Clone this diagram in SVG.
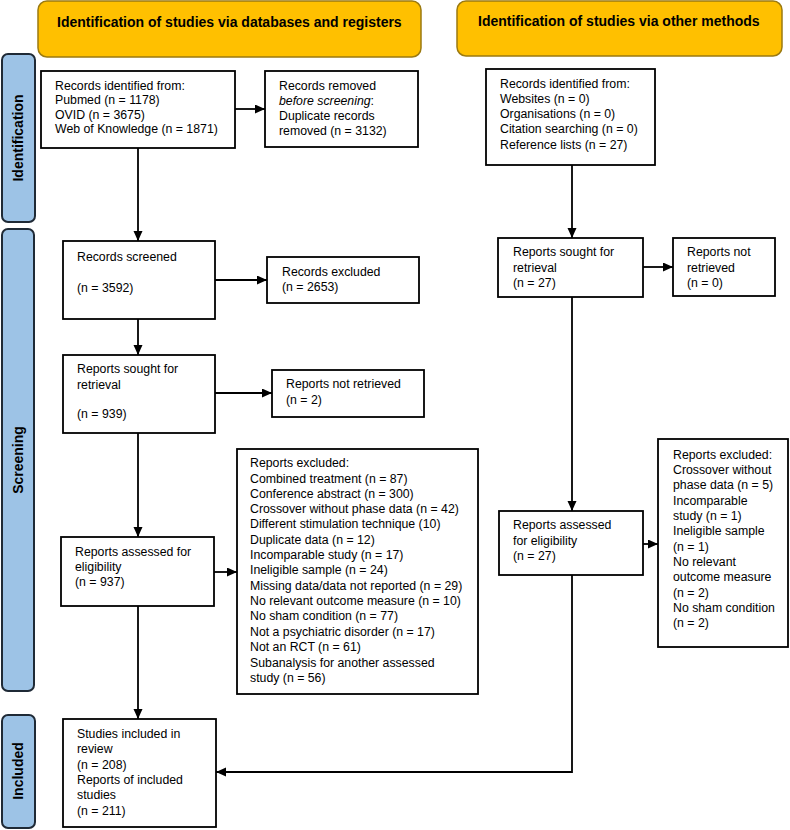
<svg xmlns="http://www.w3.org/2000/svg" width="790" height="830" viewBox="0 0 790 830">
<style>
  .hdr { fill: #FFC000; stroke: #9C7A10; stroke-width: 1.5; }
  .bar { fill: #9DC3E6; stroke: #1F2A36; stroke-width: 2; }
  .box { fill: #FFFFFF; stroke: #000000; stroke-width: 1.8; }
  .t { font-family: "Liberation Sans", Arial, sans-serif; font-size: 12.3px; fill: #000; }
  .ht { font-family: "Liberation Sans", Arial, sans-serif; font-size: 14px; font-weight: bold; fill: #000; }
  .bt { font-family: "Liberation Sans", Arial, sans-serif; font-size: 14px; font-weight: bold; fill: #000; text-anchor: middle; }
  .c { fill: none; stroke: #000; stroke-width: 1.8; }
</style>
<defs>
  <marker id="arr" markerUnits="userSpaceOnUse" markerWidth="11" markerHeight="10" refX="10" refY="4.5" orient="auto">
    <path d="M0,0 L10,4.5 L0,9 z" fill="#000"/>
  </marker>
</defs>
<rect width="790" height="830" fill="#FFFFFF"/>

<g id="header-databases">
  <rect class="hdr" x="38" y="1" width="383" height="56" rx="9"/>
  <text class="ht" x="57" y="27">Identification of studies via databases and registers</text>
</g>
<g id="header-other">
  <rect class="hdr" x="457" y="1" width="325" height="55" rx="9"/>
  <text class="ht" x="478" y="26">Identification of studies via other methods</text>
</g>

<g id="bar-identification">
  <rect class="bar" x="2" y="54" width="33" height="168" rx="6"/>
  <text class="bt" transform="translate(23,138) rotate(-90)">Identification</text>
</g>
<g id="bar-screening">
  <rect class="bar" x="2" y="229" width="32" height="462" rx="6"/>
  <text class="bt" transform="translate(23,460) rotate(-90)">Screening</text>
</g>
<g id="bar-included">
  <rect class="bar" x="2" y="715" width="33" height="113" rx="6"/>
  <text class="bt" transform="translate(23,771) rotate(-90)">Included</text>
</g>

<g id="records-identified">
  <rect class="box" x="41" y="71" width="194" height="77"/>
  <text class="t" x="55" y="90">Records identified from:</text>
  <text class="t" x="55" y="104">Pubmed (n = 1178)</text>
  <text class="t" x="55" y="119">OVID (n = 3675)</text>
  <text class="t" x="55" y="133">Web of Knowledge (n = 1871)</text>
</g>
<g id="records-removed">
  <rect class="box" x="265" y="71" width="153" height="76"/>
  <text class="t" x="279" y="90">Records removed</text>
  <text class="t" x="279" y="105"><tspan font-style="italic">before screening</tspan>:</text>
  <text class="t" x="279" y="120">Duplicate records</text>
  <text class="t" x="279" y="135">removed  (n = 3132)</text>
</g>
<g id="records-screened">
  <rect class="box" x="63" y="241" width="152" height="78"/>
  <text class="t" x="77" y="261">Records screened</text>
  <text class="t" x="77" y="292">(n = 3592)</text>
</g>
<g id="records-excluded">
  <rect class="box" x="267" y="257" width="152" height="46"/>
  <text class="t" x="282" y="276">Records excluded</text>
  <text class="t" x="282" y="291">(n = 2653)</text>
</g>
<g id="reports-sought">
  <rect class="box" x="63" y="355" width="152" height="78"/>
  <text class="t" x="77" y="373">Reports sought for</text>
  <text class="t" x="77" y="389">retrieval</text>
  <text class="t" x="77" y="418">(n = 939)</text>
</g>
<g id="reports-not-retrieved">
  <rect class="box" x="272" y="370" width="152" height="47"/>
  <text class="t" x="286" y="388">Reports not retrieved</text>
  <text class="t" x="286" y="404">(n = 2)</text>
</g>
<g id="reports-assessed">
  <rect class="box" x="61" y="537" width="153" height="69"/>
  <text class="t" x="75" y="556">Reports assessed for</text>
  <text class="t" x="75" y="571">eligibility</text>
  <text class="t" x="75" y="586">(n = 937)</text>
</g>
<g id="reports-excluded">
  <rect class="box" x="237" y="449" width="241" height="245"/>
  <text class="t" x="250" y="467">Reports excluded:</text>
  <text class="t" x="250" y="483">Combined treatment (n = 87)</text>
  <text class="t" x="250" y="498">Conference abstract (n = 300)</text>
  <text class="t" x="250" y="513">Crossover without phase data (n = 42)</text>
  <text class="t" x="250" y="528">Different stimulation technique (10)</text>
  <text class="t" x="250" y="544">Duplicate data (n = 12)</text>
  <text class="t" x="250" y="559">Incomparable study (n = 17)</text>
  <text class="t" x="250" y="574">Ineligible sample (n = 24)</text>
  <text class="t" x="250" y="590">Missing data/data not reported (n = 29)</text>
  <text class="t" x="250" y="605">No relevant outcome measure (n = 10)</text>
  <text class="t" x="250" y="620">No sham condition (n = 77)</text>
  <text class="t" x="250" y="636">Not a psychiatric disorder (n = 17)</text>
  <text class="t" x="250" y="651">Not an RCT (n = 61)</text>
  <text class="t" x="250" y="667">Subanalysis for another assessed</text>
  <text class="t" x="250" y="682">study (n = 56)</text>
</g>
<g id="studies-included">
  <rect class="box" x="63" y="719" width="153" height="108"/>
  <text class="t" x="77" y="738">Studies included in</text>
  <text class="t" x="77" y="753">review</text>
  <text class="t" x="77" y="769">(n = 208)</text>
  <text class="t" x="77" y="784">Reports of included</text>
  <text class="t" x="77" y="799">studies</text>
  <text class="t" x="77" y="815">(n = 211)</text>
</g>

<g id="other-records-identified">
  <rect class="box" x="486" y="69" width="169" height="96"/>
  <text class="t" x="500" y="88">Records identified from:</text>
  <text class="t" x="500" y="103">Websites (n = 0)</text>
  <text class="t" x="500" y="118">Organisations (n = 0)</text>
  <text class="t" x="500" y="133">Citation searching (n = 0)</text>
  <text class="t" x="500" y="149">Reference lists (n = 27)</text>
</g>
<g id="other-reports-sought">
  <rect class="box" x="498" y="238" width="145" height="59"/>
  <text class="t" x="513" y="256">Reports sought for</text>
  <text class="t" x="513" y="272">retrieval</text>
  <text class="t" x="513" y="287">(n = 27)</text>
</g>
<g id="other-reports-not-retrieved">
  <rect class="box" x="673" y="238" width="102" height="58"/>
  <text class="t" x="687" y="256">Reports not</text>
  <text class="t" x="687" y="272">retrieved</text>
  <text class="t" x="687" y="287">(n = 0)</text>
</g>
<g id="other-reports-assessed">
  <rect class="box" x="499" y="511" width="144" height="64"/>
  <text class="t" x="513" y="529">Reports assessed</text>
  <text class="t" x="513" y="545">for eligibility</text>
  <text class="t" x="513" y="560">(n = 27)</text>
</g>
<g id="other-reports-excluded">
  <rect class="box" x="658" y="439" width="130" height="208"/>
  <text class="t" x="673" y="459">Reports excluded:</text>
  <text class="t" x="673" y="474">Crossover without</text>
  <text class="t" x="673" y="489">phase data (n = 5)</text>
  <text class="t" x="673" y="505">Incomparable</text>
  <text class="t" x="673" y="520">study (n = 1)</text>
  <text class="t" x="673" y="535">Ineligible sample</text>
  <text class="t" x="673" y="551">(n = 1)</text>
  <text class="t" x="673" y="566">No relevant</text>
  <text class="t" x="673" y="581">outcome measure</text>
  <text class="t" x="673" y="597">(n = 2)</text>
  <text class="t" x="673" y="612">No sham condition</text>
  <text class="t" x="673" y="627">(n = 2)</text>
</g>

<g id="connectors">
  <line class="c" x1="235" y1="109" x2="265" y2="109" marker-end="url(#arr)"/>
  <line class="c" x1="138" y1="148" x2="138" y2="241" marker-end="url(#arr)"/>
  <line class="c" x1="215" y1="280" x2="267" y2="280" marker-end="url(#arr)"/>
  <line class="c" x1="138" y1="319" x2="138" y2="355" marker-end="url(#arr)"/>
  <line class="c" x1="215" y1="393" x2="272" y2="393" marker-end="url(#arr)"/>
  <line class="c" x1="138" y1="433" x2="138" y2="537" marker-end="url(#arr)"/>
  <line class="c" x1="214" y1="572" x2="237" y2="572" marker-end="url(#arr)"/>
  <line class="c" x1="138" y1="606" x2="138" y2="719" marker-end="url(#arr)"/>
  <line class="c" x1="572" y1="165" x2="572" y2="238" marker-end="url(#arr)"/>
  <line class="c" x1="643" y1="267" x2="673" y2="267" marker-end="url(#arr)"/>
  <line class="c" x1="572" y1="297" x2="572" y2="511" marker-end="url(#arr)"/>
  <line class="c" x1="643" y1="544" x2="658" y2="544" marker-end="url(#arr)"/>
  <polyline class="c" points="572,575 572,772 216,772" marker-end="url(#arr)"/>
</g>
</svg>
